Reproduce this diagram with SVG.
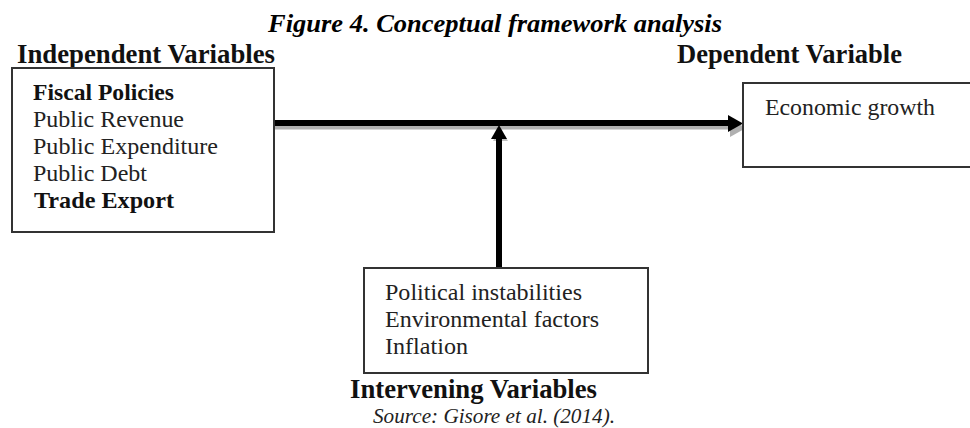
<svg xmlns="http://www.w3.org/2000/svg" width="970" height="428" viewBox="0 0 970 428">
<defs>
<style>
text{font-family:'Liberation Serif','Times New Roman',Times,serif}
.box{fill:#fff;stroke:#333;stroke-width:2}
.t{font-size:24px;fill:#222}
.b{font-size:24px;font-weight:bold;fill:#111}
.h{font-size:26.5px;font-weight:bold;fill:#111}
.title{font-size:26px;font-weight:bold;font-style:italic;fill:#000}
.src{font-size:21px;font-style:italic;fill:#222}
.shaft{stroke:#000;stroke-width:6;fill:none}
.shadow{stroke:#b0b0b0;stroke-width:4;fill:none}
</style>
</defs>
<rect width="970" height="428" fill="#fff"/>
<text class="title" x="268" y="32" textLength="454" lengthAdjust="spacingAndGlyphs">Figure 4. Conceptual framework analysis</text>
<text class="h" x="17" y="63" textLength="258" lengthAdjust="spacingAndGlyphs">Independent Variables</text>
<text class="h" x="677" y="63" textLength="225" lengthAdjust="spacingAndGlyphs">Dependent Variable</text>
<g id="connectors">
<line class="shadow" x1="274" y1="127.5" x2="730" y2="127.5"/>
<polygon points="730,119 746,128 730,137" fill="#b0b0b0"/>
<line class="shaft" x1="274" y1="123" x2="729" y2="123"/>
<polygon points="728,115 743,123.5 728,132" fill="#000"/>
<polygon points="493,141 500,128 508,141" fill="#c0c0c0"/>
<line class="shaft" x1="499" y1="138" x2="499" y2="268"/>
<polygon points="491,139 499,125 507,139" fill="#000"/>
</g>
<g id="independent">
<rect class="box" x="12" y="68" width="262" height="164"/>
<text class="b" x="33" y="100" textLength="141" lengthAdjust="spacingAndGlyphs">Fiscal Policies</text>
<text class="t" x="33" y="127" textLength="151" lengthAdjust="spacingAndGlyphs">Public Revenue</text>
<text class="t" x="33" y="154" textLength="185" lengthAdjust="spacingAndGlyphs">Public Expenditure</text>
<text class="t" x="33" y="181" textLength="114" lengthAdjust="spacingAndGlyphs">Public Debt</text>
<text class="b" x="34" y="208" textLength="140" lengthAdjust="spacingAndGlyphs">Trade Export</text>
</g>
<g id="dependent">
<rect class="box" x="743" y="83" width="230" height="84"/>
<text class="t" x="765" y="115" textLength="170" lengthAdjust="spacingAndGlyphs">Economic growth</text>
</g>
<g id="intervening">
<rect class="box" x="364" y="268" width="284" height="105"/>
<text class="t" x="385" y="300" textLength="197" lengthAdjust="spacingAndGlyphs">Political instabilities</text>
<text class="t" x="385" y="327" textLength="214" lengthAdjust="spacingAndGlyphs">Environmental factors</text>
<text class="t" x="385" y="354" textLength="83" lengthAdjust="spacingAndGlyphs">Inflation</text>
<text class="h" x="350" y="398" textLength="247" lengthAdjust="spacingAndGlyphs">Intervening Variables</text>
<text class="src" x="373" y="423" textLength="242" lengthAdjust="spacingAndGlyphs">Source: Gisore et al. (2014).</text>
</g>
</svg>
